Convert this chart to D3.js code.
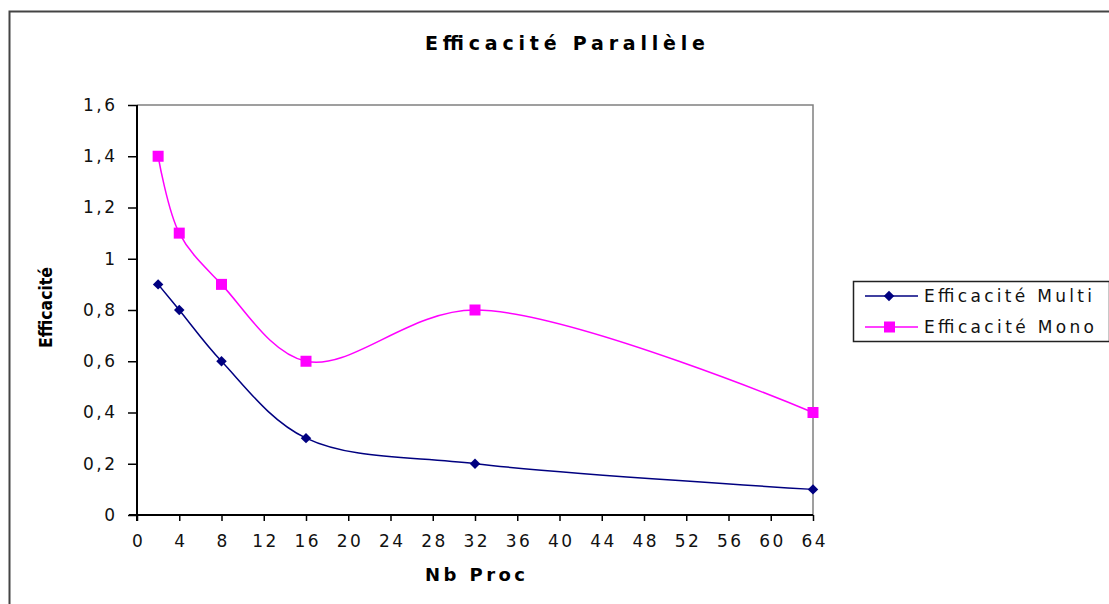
<!DOCTYPE html>
<html><head><meta charset="utf-8">
<script src="https://cdn.jsdelivr.net/npm/d3@7"></script>
<style>body{margin:0;background:#fff}svg{display:block;font-family:"DejaVu Sans",Arial,sans-serif}</style>
</head><body><svg id="c" width="1109" height="604"></svg>
<script>
const procs = [2, 4, 8, 16, 32, 64];
const multi = [0.9, 0.8, 0.6, 0.3, 0.2, 0.1];
const mono = [1.4, 1.1, 0.9, 0.6, 0.8, 0.4];
const xTicks = d3.range(0, 65, 4);
const yTicks = [0, 0.2, 0.4, 0.6, 0.8, 1, 1.2, 1.4, 1.6];
const seriesNames = ["Efficacité Multi", "Efficacité Mono"];
const title = "Efficacité Parallèle";
const xTitle = "Nb Proc";
const yTitle = "Efficacité";

const svg = d3.select("#c");
svg.append("rect").attr("x", 9.5).attr("y", 11.5).attr("width", 1120).attr("height", 620)
  .attr("fill", "#fff").attr("stroke", "#444").attr("stroke-width", 2);

const L = 137, R = 813, T = 105, B = 515;
const x = d3.scaleLinear().domain([0, 64]).range([L, R]);
const y = d3.scaleLinear().domain([0, 1.6]).range([B, T]);

svg.append("path").attr("d", `M${L},${T}H${R}V${B}`).attr("fill", "none").attr("stroke", "#808080").attr("stroke-width", 1.5);

const fmt = d => String(d).replace(".", ",");
const xa = svg.append("g").attr("transform", `translate(0,${B})`)
  .call(d3.axisBottom(x).tickValues(xTicks).tickSize(6).tickFormat(d => d));
const ya = svg.append("g").attr("transform", `translate(${L},0)`)
  .call(d3.axisLeft(y).tickValues(yTicks).tickSize(9).tickFormat(fmt));
[xa, ya].forEach(a => {
  a.select(".domain").attr("stroke", "#000").attr("stroke-width", 2);
  a.selectAll(".tick line").attr("stroke", "#000").attr("stroke-width", 1.5);
  a.selectAll("text").attr("fill", "#111").attr("letter-spacing", 2.5)
    .attr("font-family", "'DejaVu Sans', sans-serif").attr("font-size", 17);
});
xa.select(".domain").attr("d", `M${L - 8},0H${R}`);
xa.selectAll(".tick line").attr("y1", 0);
xa.selectAll(".tick text").attr("y", 27).attr("dy", "0.32em").attr("dx", 1.2);
ya.select(".domain").attr("d", `M0,${B + 6}V${T}`);
ya.selectAll(".tick text").attr("x", -19.5).attr("dy", "0.32em");

const line = d3.line().x(d => x(d[0])).y(d => y(d[1])).curve(d3.curveCatmullRom.alpha(0.5));
const dMulti = procs.map((p, i) => [p, multi[i]]);
const dMono = procs.map((p, i) => [p, mono[i]]);

svg.append("path").datum(dMono).attr("d", line).attr("fill", "none").attr("stroke", "#ff00ff").attr("stroke-width", 1.5);
svg.append("path").datum(dMulti).attr("d", line).attr("fill", "none").attr("stroke", "#000080").attr("stroke-width", 1.5);

const diamond = d3.symbol().type(d3.symbolSquare).size(55);
svg.selectAll(".mm").data(dMulti).enter().append("path")
  .attr("transform", d => `translate(${x(d[0])},${y(d[1])}) rotate(45)`).attr("d", diamond).attr("fill", "#000080");
svg.selectAll(".mo").data(dMono).enter().append("rect")
  .attr("x", d => x(d[0]) - 5.5).attr("y", d => y(d[1]) - 5.5).attr("width", 11).attr("height", 11).attr("fill", "#ff00ff");

svg.append("text").attr("x", 425).attr("y", 50)
  .attr("font-weight", "bold").attr("font-size", 19).attr("textLength", 280).attr("lengthAdjust", "spacing").text(title);
svg.append("text").attr("x", 425).attr("y", 581)
  .attr("font-weight", "bold").attr("font-size", 18).attr("textLength", 100).attr("lengthAdjust", "spacing").text(xTitle);
svg.append("text").attr("transform", "translate(52,348) rotate(-90)")
  .attr("font-weight", "bold").attr("font-size", 18).attr("textLength", 81).attr("lengthAdjust", "spacingAndGlyphs").text(yTitle);

const lg = svg.append("g");
lg.append("rect").attr("x", 853.5).attr("y", 281.5).attr("width", 256).attr("height", 60)
  .attr("fill", "#fff").attr("stroke", "#222").attr("stroke-width", 1.5);
const items = [{n: seriesNames[0], c: "#000080", s: "d"}, {n: seriesNames[1], c: "#ff00ff", s: "s"}];
items.forEach((it, i) => {
  const cy = 296 + i * 31;
  lg.append("line").attr("x1", 865).attr("x2", 918).attr("y1", cy).attr("y2", cy).attr("stroke", it.c).attr("stroke-width", 1.5);
  if (it.s === "d") lg.append("path").attr("transform", `translate(889,${cy}) rotate(45)`).attr("d", diamond).attr("fill", it.c);
  else lg.append("rect").attr("x", 884).attr("y", cy - 5.5).attr("width", 11).attr("height", 11).attr("fill", it.c);
  lg.append("text").attr("x", 924).attr("y", cy + 6).attr("font-size", 17).attr("fill", "#111")
    .attr("textLength", i === 0 ? 168 : 170).attr("lengthAdjust", "spacing").text(it.n);
});
</script></body></html>
